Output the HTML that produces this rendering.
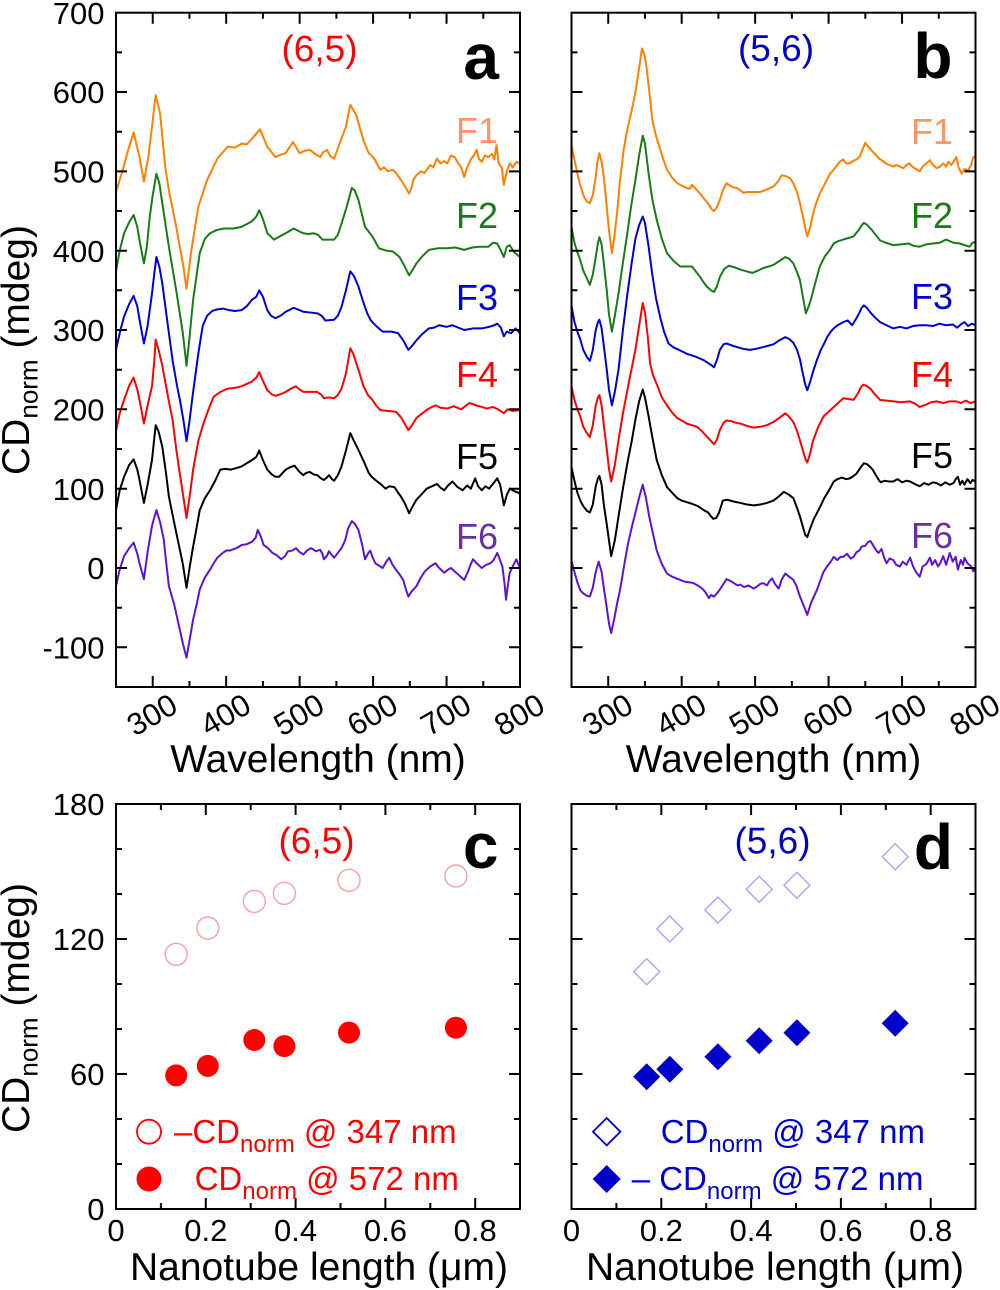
<!DOCTYPE html>
<html><head><meta charset="utf-8"><style>
html,body{margin:0;padding:0;background:#fff;}
svg{display:block;}
text{font-family:"Liberation Sans",Arial,sans-serif;}
</style></head><body>
<svg width="1000" height="1290" viewBox="0 0 1000 1290" xmlns="http://www.w3.org/2000/svg">
<defs>
<clipPath id="ca"><rect x="116" y="12.7" width="404" height="674.3"/></clipPath>
<clipPath id="cb"><rect x="571.5" y="12.7" width="404" height="674.3"/></clipPath>
</defs>
<rect width="1000" height="1290" fill="#fff"/>

<!-- ========== PANEL A curves ========== -->
<g clip-path="url(#ca)">
<g transform="matrix(0.73455 0 0 -0.7933 -67.64 568)" fill="none" stroke-width="2" stroke-linejoin="round">
<polyline vector-effect="non-scaling-stroke" stroke="#ff8000" points="250,474 259,501 266,525 274,549 282,518 288,487 294,518 299,556 304,596 310,573 317,506 322,476 332,430 341,384 346,352 352,397 362,455 374,489 388,516 402,531 412,530 421,535 428,534 435,541 446,553 456,531 467,518 474,521 481,523 491,537 500,523 507,526 514,527 521,522 528,518 532,524 537,527 542,519 547,516 556,539 563,556 569,584 577,571 587,539 594,523 598,520 603,514 606,508 610,502 615,505 620,500 627,502 632,497 638,489 643,482 649,472 652,478 655,490 659,495 665,500 670,498 673,502 678,508 682,505 687,516 692,510 697,513 701,510 706,520 711,518 716,510 720,505 724,493 728,505 733,515 737,520 741,527 744,516 748,512 752,520 757,518 762,522 765,515 768,533 771,510 775,505 778,483 782,500 786,510 790,505 795,512 800,510"/>
<polyline vector-effect="non-scaling-stroke" stroke="#1a7a1a" points="250,374 255,400 261,422 268,436 274,445 279,430 282,413 288,384 292,405 296,443 300,470 305,497 309,485 313,460 322,405 332,350 341,296 346,255 350,290 355,338 364,397 371,415 378,422 387,426 397,428 410,428 421,430 435,437 441,443 445,451 450,440 456,422 465,414 473,418 481,422 492,428 500,424 505,422 512,421 519,422 525,420 531,414 540,414 547,414 552,420 557,434 564,455 571,479 575,476 580,464 589,430 594,424 599,418 608,403 618,400 627,399 636,392 642,382 649,369 654,376 659,384 667,393 676,401 688,403 701,403 712,404 724,401 735,404 745,405 757,405 763,410 769,409 773,402 778,392 782,405 786,407 792,398 800,392"/>
<polyline vector-effect="non-scaling-stroke" stroke="#0000d0" points="250,275 256,300 261,317 268,333 274,343 279,330 282,313 288,283 293,305 299,346 302,370 305,392 309,380 313,359 320,310 327,262 333,230 338,207 342,185 346,160 350,185 355,222 362,270 368,305 374,318 381,324 388,326 396,327 404,325 412,324 421,325 428,330 435,338 441,342 445,350 450,342 456,325 461,318 467,315 474,318 481,323 492,328 500,325 505,323 515,322 524,321 530,318 535,312 547,313 552,318 557,329 563,350 569,374 574,368 580,355 586,337 592,321 597,312 603,306 613,298 625,298 634,296 641,287 648,275 653,280 659,287 667,295 676,302 683,303 690,306 700,304 708,306 716,303 724,300 736,302 748,302 758,304 765,306 769,308 774,303 778,292 782,298 788,296 794,302 800,296"/>
<polyline vector-effect="non-scaling-stroke" stroke="#ff0000" points="250,172 255,195 261,212 268,230 274,240 279,225 282,212 288,182 293,205 299,229 302,260 304,288 308,275 313,255 322,210 327,187 332,150 336,124 341,94 346,63 351,95 355,124 362,160 369,182 376,200 383,216 392,222 402,226 411,227 421,229 428,232 435,235 441,240 445,247 450,236 456,224 462,219 467,217 474,219 481,222 488,226 495,229 500,225 505,222 515,222 524,222 530,218 533,214 540,215 547,214 552,218 557,226 563,245 569,277 573,270 580,250 587,229 593,218 599,212 604,205 610,199 620,198 631,197 638,190 643,182 648,174 653,180 659,189 667,195 674,200 680,203 685,205 692,202 701,201 710,204 720,200 731,208 740,205 748,203 755,201 763,203 770,200 775,197 778,195 783,200 790,198 800,199"/>
<polyline vector-effect="non-scaling-stroke" stroke="#000000" points="250,73 255,98 261,115 268,130 274,137 279,124 282,111 288,82 293,105 299,136 304,180 308,172 313,153 318,120 322,90 329,58 336,27 341,5 346,-25 351,5 355,27 360,52 364,73 371,88 378,98 385,110 392,124 399,125 406,124 414,126 421,128 428,132 435,136 441,140 445,148 450,136 456,124 462,118 467,115 472,115 477,120 481,124 487,127 493,129 499,122 505,117 509,120 514,121 519,118 524,117 529,113 533,111 537,114 540,117 544,112 547,110 552,117 557,128 563,148 569,170 574,160 580,149 587,135 594,120 598,115 603,111 610,106 617,100 622,103 629,102 634,95 638,90 644,80 649,69 654,78 659,86 665,92 673,100 680,103 687,106 692,101 697,98 702,104 708,109 715,102 722,98 728,104 733,100 739,113 743,103 748,98 753,103 758,100 764,107 769,113 773,105 778,79 782,92 786,100 792,97 800,94"/>
<polyline vector-effect="non-scaling-stroke" stroke="#5a14d2" points="250,-23 255,-2 261,15 268,25 274,32 279,18 282,6 288,-14 293,20 299,53 305,73 310,58 315,36 318,10 322,-23 329,-45 336,-74 341,-95 346,-113 350,-92 355,-65 360,-45 364,-27 371,-12 378,-2 383,6 388,13 394,18 400,22 405,22 411,24 416,26 421,29 428,30 435,33 440,38 443,48 447,40 451,29 457,25 463,19 469,16 475,11 480,15 484,21 490,22 495,25 500,20 505,17 510,22 516,25 522,21 528,23 531,18 533,11 537,15 540,21 544,16 547,13 552,19 557,25 562,35 566,50 571,59 575,56 580,48 585,30 589,11 593,18 596,22 600,12 603,6 608,3 613,0 618,8 622,13 626,5 631,-2 636,-8 641,-15 645,-28 648,-36 652,-30 659,-23 665,-12 670,-5 673,-2 678,2 685,6 690,0 697,-6 702,-2 706,0 712,-5 718,-10 724,-15 729,-5 733,5 736,11 742,5 748,0 754,4 760,6 764,10 769,19 772,12 776,2 779,-20 781,-40 783,-25 786,-6 790,2 795,11 800,0"/>
</g>
</g>

<!-- ========== PANEL B curves ========== -->
<g clip-path="url(#cb)">
<g transform="matrix(0.73455 0 0 -0.7933 387.86 568)" fill="none" stroke-width="2" stroke-linejoin="round">
<polyline vector-effect="non-scaling-stroke" stroke="#ff8000" points="250,533 254,515 258,497 262,482 267,468 271,462 275,460 279,470 283,493 285,510 288,523 291,512 294,493 298,455 301,426 305,397 308,415 312,447 316,488 321,527 325,548 330,569 335,590 339,611 342,630 346,655 349,648 352,632 356,600 360,565 365,545 371,527 375,515 380,502 387,492 394,485 400,482 407,479 411,478 414,483 419,478 425,472 431,465 437,458 441,452 444,450 448,455 452,464 456,476 461,485 466,482 470,480 475,479 480,476 484,473 490,474 496,474 502,474 507,474 513,476 518,478 525,481 530,486 533,490 536,495 542,494 548,491 552,485 557,474 561,460 566,439 569,425 571,418 575,430 579,447 583,460 588,472 593,481 598,490 602,497 608,503 615,512 620,515 624,510 629,510 633,513 638,515 642,518 646,527 650,536 655,530 660,525 665,520 669,516 674,513 678,510 683,508 688,506 692,508 697,506 702,504 706,508 710,510 715,505 719,503 724,500 728,506 733,510 738,514 742,508 747,504 752,506 756,510 760,506 763,512 767,508 770,512 774,518 777,505 781,497 785,503 790,501 794,508 797,518 800,518"/>
<polyline vector-effect="non-scaling-stroke" stroke="#1a7a1a" points="250,430 254,410 258,398 262,388 266,375 271,365 275,357 279,370 283,392 286,410 288,417 291,408 294,384 298,350 301,320 305,298 309,318 314,346 320,385 326,422 331,455 337,489 342,520 347,545 350,535 355,497 360,465 366,439 373,415 380,397 389,387 398,380 406,380 414,380 420,373 425,367 430,360 434,355 440,350 444,348 448,355 452,367 458,377 464,381 472,379 480,376 488,374 496,372 504,375 511,378 518,380 525,382 533,387 541,392 546,390 552,384 557,373 561,363 565,342 569,321 573,330 577,342 582,360 588,380 595,393 601,400 607,409 613,412 620,414 627,416 634,418 641,426 645,432 648,435 652,433 659,426 664,420 670,413 678,410 688,407 699,408 709,409 716,406 724,405 733,408 742,409 751,410 760,414 770,410 779,409 785,407 792,405 796,410 800,411"/>
<polyline vector-effect="non-scaling-stroke" stroke="#0000d0" points="250,331 254,310 258,298 262,288 266,275 271,266 275,261 279,275 283,300 286,310 288,313 291,302 294,280 298,250 301,225 305,205 309,222 314,250 320,300 326,345 332,385 337,415 342,432 347,443 350,435 355,405 360,370 365,340 371,315 376,298 382,283 389,278 396,275 403,272 407,270 414,268 420,266 425,264 430,262 435,259 440,256 444,253 448,262 452,275 457,282 461,283 470,280 477,278 485,276 493,275 500,276 509,278 517,280 525,282 533,287 541,291 546,289 552,284 557,275 561,263 565,245 568,232 571,224 575,235 579,248 584,262 590,276 594,283 598,291 603,298 608,303 614,307 620,310 626,312 632,306 638,315 642,322 645,328 648,331 652,328 657,322 663,316 670,310 679,306 688,302 697,304 706,302 715,305 724,306 733,306 742,305 751,308 760,306 769,307 775,303 780,307 785,310 790,305 795,308 800,306"/>
<polyline vector-effect="non-scaling-stroke" stroke="#ff0000" points="250,229 254,212 258,200 262,191 266,178 271,170 275,165 279,180 283,205 286,215 288,218 291,205 294,180 298,150 301,125 304,109 309,130 314,161 320,195 326,224 332,252 337,275 342,305 347,334 350,322 354,290 357,258 361,243 366,232 373,215 380,205 387,196 394,189 400,186 407,182 414,180 421,178 428,172 434,166 440,160 444,156 448,162 452,174 457,183 461,186 468,185 474,183 480,182 489,179 498,177 507,178 516,180 525,184 534,190 541,195 546,191 552,184 557,173 561,161 566,145 569,136 571,133 575,145 579,161 586,178 593,191 600,197 607,203 613,208 620,214 627,213 634,212 640,220 644,228 647,231 651,230 657,226 663,219 670,212 679,211 688,210 699,209 711,210 718,207 724,203 733,206 740,209 747,210 756,208 765,210 774,210 780,208 787,211 793,208 800,210"/>
<polyline vector-effect="non-scaling-stroke" stroke="#000000" points="250,127 254,110 258,95 262,85 266,78 271,72 275,70 279,80 283,103 286,113 288,116 291,105 294,80 298,55 301,35 304,15 309,35 314,65 320,100 326,132 332,160 337,187 342,210 347,225 350,215 355,191 360,165 366,136 373,117 380,102 387,95 394,88 400,85 407,83 414,81 422,78 430,73 436,70 440,65 443,62 447,63 451,70 456,85 462,86 470,84 480,82 489,80 498,79 507,80 516,82 525,85 532,90 539,96 545,93 552,88 557,76 561,65 565,52 568,42 571,39 575,50 580,62 584,69 590,80 594,88 598,94 603,102 607,109 612,112 618,114 624,112 629,113 634,116 638,119 643,126 648,132 652,131 656,128 660,124 665,116 669,110 671,108 676,110 682,109 688,109 694,112 700,108 706,110 711,109 717,106 724,103 730,107 736,105 742,108 747,107 753,104 759,108 765,105 770,107 773,112 776,115 779,105 782,110 785,105 789,112 793,107 796,111 800,109"/>
<polyline vector-effect="non-scaling-stroke" stroke="#5a14d2" points="250,9 254,-5 258,-18 262,-28 266,-32 271,-35 275,-36 279,-25 283,-5 286,5 287,8 291,-5 294,-25 298,-50 301,-70 304,-82 308,-65 312,-45 316,-28 322,5 327,31 333,55 339,77 343,92 347,105 351,90 356,64 361,43 366,22 373,5 380,-7 387,-11 395,-14 403,-17 410,-18 416,-19 422,-22 428,-26 432,-30 437,-38 440,-34 444,-36 448,-32 452,-27 457,-20 461,-14 466,-16 471,-19 476,-22 480,-21 485,-24 491,-22 498,-26 503,-23 507,-20 511,-19 516,-22 520,-16 523,-13 527,-20 532,-26 536,-15 541,-7 545,-10 548,-12 552,-15 556,-22 561,-36 565,-45 568,-52 571,-59 574,-50 577,-42 584,-28 589,-15 593,-5 598,2 603,8 607,14 612,10 616,14 620,14 625,18 630,12 634,14 638,20 642,22 645,27 650,28 654,33 657,34 661,28 665,22 668,19 672,24 676,12 679,6 683,12 688,10 692,4 697,2 701,8 706,4 711,13 715,2 719,-5 724,-11 728,2 733,5 738,13 741,4 745,10 749,2 752,6 756,15 760,4 765,19 769,8 773,14 776,-2 780,10 783,4 785,13 789,6 794,2 797,-4 800,0"/>
</g>
</g>

<!-- ========== frames & ticks ========== -->
<g fill="none" stroke="#000" stroke-width="2">
<rect x="116" y="12.7" width="404" height="674.3"/>
<rect x="571.5" y="12.7" width="404" height="674.3"/>
<rect x="116" y="804" width="404" height="405"/>
<rect x="571.5" y="804" width="404" height="405"/>
<path d="M116 92h11M116 171.35h11M116 250.7h11M116 330h11M116 409.3h11M116 488.7h11M116 568h11M116 647.3h11
M116 52.35h6M116 131.7h6M116 211h6M116 290.3h6M116 369.7h6M116 449h6M116 528.3h6M116 607.7h6
M520 92h-11M520 171.35h-11M520 250.7h-11M520 330h-11M520 409.3h-11M520 488.7h-11M520 568h-11M520 647.3h-11
M520 52.35h-6M520 131.7h-6M520 211h-6M520 290.3h-6M520 369.7h-6M520 449h-6M520 528.3h-6M520 607.7h-6
M152.73 687v-11M226.18 687v-11M299.64 687v-11M373.09 687v-11M446.55 687v-11
M189.46 687v-6M262.91 687v-6M336.37 687v-6M409.82 687v-6M483.28 687v-6
M152.73 12.7v11M226.18 12.7v11M299.64 12.7v11M373.09 12.7v11M446.55 12.7v11
M189.46 12.7v6M262.91 12.7v6M336.37 12.7v6M409.82 12.7v6M483.28 12.7v6"/>
<path d="M571.5 92h11M571.5 171.35h11M571.5 250.7h11M571.5 330h11M571.5 409.3h11M571.5 488.7h11M571.5 568h11M571.5 647.3h11
M571.5 52.35h6M571.5 131.7h6M571.5 211h6M571.5 290.3h6M571.5 369.7h6M571.5 449h6M571.5 528.3h6M571.5 607.7h6
M975.5 92h-11M975.5 171.35h-11M975.5 250.7h-11M975.5 330h-11M975.5 409.3h-11M975.5 488.7h-11M975.5 568h-11M975.5 647.3h-11
M975.5 52.35h-6M975.5 131.7h-6M975.5 211h-6M975.5 290.3h-6M975.5 369.7h-6M975.5 449h-6M975.5 528.3h-6M975.5 607.7h-6
M608.23 687v-11M681.68 687v-11M755.14 687v-11M828.59 687v-11M902.05 687v-11
M644.96 687v-6M718.41 687v-6M791.87 687v-6M865.32 687v-6M938.78 687v-6
M608.23 12.7v11M681.68 12.7v11M755.14 12.7v11M828.59 12.7v11M902.05 12.7v11
M644.96 12.7v6M718.41 12.7v6M791.87 12.7v6M865.32 12.7v6M938.78 12.7v6"/>
<path d="M116 1074h11M116 939h11M116 1164h6M116 1119h6M116 1029h6M116 984h6M116 894h6M116 849h6
M520 1074h-11M520 939h-11M520 1164h-6M520 1119h-6M520 1029h-6M520 984h-6M520 894h-6M520 849h-6
M205.8 1209v-11M295.6 1209v-11M385.4 1209v-11M475.2 1209v-11M160.9 1209v-6M250.7 1209v-6M340.5 1209v-6M430.3 1209v-6
M205.8 804v11M295.6 804v11M385.4 804v11M475.2 804v11M160.9 804v6M250.7 804v6M340.5 804v6M430.3 804v6"/>
<path d="M571.5 1074h11M571.5 939h11M571.5 1164h6M571.5 1119h6M571.5 1029h6M571.5 984h6M571.5 894h6M571.5 849h6
M975.5 1074h-11M975.5 939h-11M975.5 1164h-6M975.5 1119h-6M975.5 1029h-6M975.5 984h-6M975.5 894h-6M975.5 849h-6
M661.3 1209v-11M751.1 1209v-11M840.9 1209v-11M930.7 1209v-11M616.4 1209v-6M706.2 1209v-6M796 1209v-6M885.8 1209v-6
M661.3 804v11M751.1 804v11M840.9 804v11M930.7 804v11M616.4 804v6M706.2 804v6M796 804v6M885.8 804v6"/>
</g>

<!-- ========== tick labels ========== -->
<g font-size="31" fill="#000" text-anchor="end">
<text x="104.5" y="23.8">700</text>
<text x="104.5" y="103.1">600</text>
<text x="104.5" y="182.45">500</text>
<text x="104.5" y="261.8">400</text>
<text x="104.5" y="341.1">300</text>
<text x="104.5" y="420.4">200</text>
<text x="104.5" y="499.8">100</text>
<text x="104.5" y="579.1">0</text>
<text x="104.5" y="658.4">-100</text>

<text x="104.5" y="815.1">180</text>
<text x="104.5" y="950.1">120</text>
<text x="104.5" y="1085.1">60</text>
<text x="104.5" y="1220.1">0</text>

<text transform="translate(179.7,711) rotate(-30)">300</text>
<text transform="translate(253.2,711) rotate(-30)">400</text>
<text transform="translate(326.6,711) rotate(-30)">500</text>
<text transform="translate(400.1,711) rotate(-30)">600</text>
<text transform="translate(473.5,711) rotate(-30)">700</text>
<text transform="translate(547,711) rotate(-30)">800</text>

<text transform="translate(635.2,711) rotate(-30)">300</text>
<text transform="translate(708.7,711) rotate(-30)">400</text>
<text transform="translate(782.1,711) rotate(-30)">500</text>
<text transform="translate(855.6,711) rotate(-30)">600</text>
<text transform="translate(929,711) rotate(-30)">700</text>
<text transform="translate(1002.5,711) rotate(-30)">800</text>
</g>
<g font-size="31" fill="#000" text-anchor="middle">
<text x="116" y="1241">0</text>
<text x="205.8" y="1241">0.2</text>
<text x="295.6" y="1241">0.4</text>
<text x="385.4" y="1241">0.6</text>
<text x="475.2" y="1241">0.8</text>
<text x="571.5" y="1241">0</text>
<text x="661.3" y="1241">0.2</text>
<text x="751.1" y="1241">0.4</text>
<text x="840.9" y="1241">0.6</text>
<text x="930.7" y="1241">0.8</text>
</g>

<!-- ========== axis titles ========== -->
<g font-size="39" fill="#000" text-anchor="middle">
<text x="318" y="772">Wavelength (nm)</text>
<text x="773.5" y="772">Wavelength (nm)</text>
<text x="319" y="1280">Nanotube length (μm)</text>
<text x="775" y="1280">Nanotube length (μm)</text>
<text transform="translate(29,350) rotate(-90)">CD<tspan font-size="26" dy="8.5">norm</tspan><tspan dy="-8.5"> (mdeg)</tspan></text>
<text transform="translate(29,1008) rotate(-90)">CD<tspan font-size="26" dy="8.5">norm</tspan><tspan dy="-8.5"> (mdeg)</tspan></text>
</g>

<!-- ========== panel annotations ========== -->
<g font-size="37" text-anchor="middle">
<text x="319.5" y="61.5" fill="#ff0000">(6,5)</text>
<text x="776" y="61" fill="#0000c0">(5,6)</text>
<text x="316.5" y="853.5" fill="#ff0000">(6,5)</text>
<text x="772.5" y="853.5" fill="#0000c0">(5,6)</text>
</g>
<g font-size="64" font-weight="bold" fill="#000" text-anchor="end">
<text x="499" y="79">a</text>
<text x="952.5" y="78">b</text>
<text x="498.5" y="868">c</text>
<text x="953" y="869">d</text>
</g>
<g font-size="36" text-anchor="end">
<text x="498" y="143" fill="#ff9466">F1</text>
<text x="498" y="228" fill="#1a7a1a">F2</text>
<text x="498" y="310" fill="#0000d0">F3</text>
<text x="498" y="387" fill="#ff0000">F4</text>
<text x="498" y="469" fill="#000000">F5</text>
<text x="498" y="549" fill="#6b2fa5">F6</text>
<text x="953" y="144" fill="#ff9466">F1</text>
<text x="953" y="228" fill="#1a7a1a">F2</text>
<text x="953" y="309" fill="#0000d0">F3</text>
<text x="953" y="387" fill="#ff0000">F4</text>
<text x="953" y="468" fill="#000000">F5</text>
<text x="953" y="548" fill="#6b2fa5">F6</text>
</g>

<!-- ========== panel c data ========== -->
<g fill="none" stroke="#f5a0a0" stroke-width="1.4">
<circle cx="176.2" cy="954.3" r="11"/>
<circle cx="207.8" cy="928" r="11"/>
<circle cx="254.3" cy="901.4" r="11"/>
<circle cx="284.4" cy="893.3" r="11"/>
<circle cx="349" cy="880.3" r="11"/>
<circle cx="455.9" cy="876" r="11"/>
</g>
<g fill="#ff0000">
<circle cx="176.2" cy="1075.4" r="11"/>
<circle cx="207.8" cy="1065.9" r="11"/>
<circle cx="254.3" cy="1040" r="11"/>
<circle cx="284.4" cy="1046.1" r="11"/>
<circle cx="349" cy="1032.6" r="11"/>
<circle cx="455.9" cy="1027.7" r="11"/>
</g>
<circle cx="149" cy="1131.7" r="12" fill="none" stroke="#ff0000" stroke-width="1.8"/>
<circle cx="149" cy="1179" r="12.5" fill="#ff0000"/>
<g font-size="33" fill="#ff0000">
<text x="174" y="1143">–CD<tspan font-size="24" dy="9">norm</tspan><tspan dy="-9"> @ 347 nm</tspan></text>
<text x="194.6" y="1190">CD<tspan font-size="24" dy="9">norm</tspan><tspan dy="-9"> @ 572 nm</tspan></text>
</g>

<!-- ========== panel d data ========== -->
<g fill="none" stroke="#a8a8f0" stroke-width="1.4">
<path d="M646.7 958.7l13 13l-13 13l-13 -13z"/>
<path d="M669.8 916l13 13l-13 13l-13 -13z"/>
<path d="M717.9 897l13 13l-13 13l-13 -13z"/>
<path d="M759.2 876.3l13 13l-13 13l-13 -13z"/>
<path d="M796.9 872.3l13 13l-13 13l-13 -13z"/>
<path d="M895.2 843.7l13 13l-13 13l-13 -13z"/>
</g>
<g fill="#0000cc">
<path d="M646.7 1063.2l13.5 13.5l-13.5 13.5l-13.5 -13.5z"/>
<path d="M669.8 1055.8l13.5 13.5l-13.5 13.5l-13.5 -13.5z"/>
<path d="M717.9 1043.2l13.5 13.5l-13.5 13.5l-13.5 -13.5z"/>
<path d="M759.2 1027.2l13.5 13.5l-13.5 13.5l-13.5 -13.5z"/>
<path d="M796.9 1019.2l13.5 13.5l-13.5 13.5l-13.5 -13.5z"/>
<path d="M895.2 1009.8l13.5 13.5l-13.5 13.5l-13.5 -13.5z"/>
</g>
<path d="M606.7 1118l13.7 13.7l-13.7 13.7l-13.7 -13.7z" fill="none" stroke="#0000cc" stroke-width="1.8"/>
<path d="M606.7 1165l14 14l-14 14l-14 -14z" fill="#0000cc"/>
<g font-size="33" fill="#0000cc">
<text x="660.7" y="1143">CD<tspan font-size="24" dy="9">norm</tspan><tspan dy="-9"> @ 347 nm</tspan></text>
<text x="631.7" y="1190">– CD<tspan font-size="24" dy="9">norm</tspan><tspan dy="-9"> @ 572 nm</tspan></text>
</g>
</svg>
</body></html>
